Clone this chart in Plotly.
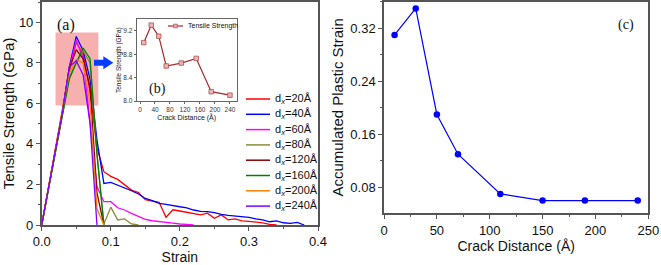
import plotly.graph_objects as go

# ---------------- data ----------------
strain = [0.00, 0.01, 0.02, 0.03, 0.04, 0.05, 0.06, 0.07, 0.08, 0.09,
          0.10, 0.11, 0.12, 0.13, 0.14, 0.15, 0.16, 0.17, 0.18, 0.19,
          0.20, 0.21, 0.22, 0.23, 0.24, 0.25, 0.26, 0.27, 0.28, 0.29,
          0.30, 0.31, 0.32, 0.33, 0.34, 0.35, 0.36, 0.37, 0.38]

series_labels = ["20", "40", "60", "80", "120", "160", "200", "240"]
series_colors = ["#ff0000", "#0000ff", "#ff00ff", "#8c8c3a",
                 "#8b0000", "#008000", "#ff8000", "#8000ff"]

stress_dx20 = [0, 1.85, 3.7, 5.55, 7.6, 9.03, 8.4, 6.6, 3.8, 2.63, 2.4, 2.25, 2.0, 1.72,
               1.6, 1.25, 1.18, 1.12, 0.38, 0.75, 0.69, 0.62, 0.57, 0.5, 0.58, 0.33,
               0.5, 0.25, 0.3, 0.2, 0.18, 0.15, 0.1, 0.03, 0]
stress_dx40 = [0, 1.85, 3.7, 5.55, 7.8, 9.3, 8.6, 7.2, 4.2, 2.05, 2.1, 1.97, 1.84, 1.69,
               1.53, 1.31, 1.2, 1.07, 1.02, 0.95, 0.9, 0.85, 0.74, 0.67, 0.66, 0.61,
               0.52, 0.47, 0.44, 0.41, 0.38, 0.3, 0.25, 0.16, 0.2, 0.11, 0.08, 0.13, 0]
stress_dx60 = [0, 1.85, 3.7, 5.55, 7.7, 9.11, 8.2, 5.0, 1.9, 1.15, 1.15, 0.85, 0.74, 0.57,
               0.44, 0.28, 0.21, 0.16, 0.13, 0.09, 0.05, 0.02, 0]
stress_dx80 = [0, 1.85, 3.7, 5.5, 7.3, 8.0, 8.6, 8.0, 3.5, 0.05, 0.88, 0.25, 0.3, 0.05, 0]
stress_dx120 = [0, 1.85, 3.7, 5.55, 7.7, 8.65, 8.2, 6.8, 1.6, 0]
stress_dx160 = [0, 1.85, 3.7, 5.5, 7.2, 8.0, 8.73, 8.2, 3.5, 0]
stress_dx200 = [0, 1.85, 3.7, 5.55, 7.5, 8.16, 8.0, 6.0, 0.8, 0]
stress_dx240 = [0, 1.85, 3.7, 5.55, 7.8, 8.1, 7.4, 5.0, 0]

stress_series = [stress_dx20, stress_dx40, stress_dx60, stress_dx80,
                 stress_dx120, stress_dx160, stress_dx200, stress_dx240]

crack_distance = [10, 30, 50, 70, 110, 150, 190, 240]
tensile_strength = [9.0, 9.3, 9.11, 8.6, 8.65, 8.73, 8.16, 8.1]
plastic_strain = [0.31, 0.35, 0.19, 0.13, 0.07, 0.06, 0.06, 0.06]

# ---------------- figure ----------------
W, H = 661, 265
def px(x):
    return x / W
def py(y):
    return 1 - y / H

fig = go.Figure()

for lab, col, ys in zip(series_labels, series_colors, stress_series):
    fig.add_trace(go.Scatter(x=strain[:len(ys)], y=ys, mode="lines",
                             line=dict(color=col, width=1.3),
                             name="dx=" + lab, showlegend=False,
                             xaxis="x", yaxis="y"))

fig.add_trace(go.Scatter(x=crack_distance, y=plastic_strain, mode="lines+markers",
                         line=dict(color="#0000ff", width=1.2),
                         marker=dict(color="#0000ff", size=6.5),
                         showlegend=False, xaxis="x2", yaxis="y2"))

fig.add_trace(go.Scatter(x=crack_distance, y=tensile_strength, mode="lines+markers",
                         line=dict(color="#a52a2a", width=1.2),
                         marker=dict(symbol="square", color="#e8b4b4", size=4.5,
                                     line=dict(color="#b05050", width=0.8)),
                         name="Tensile Strength", showlegend=False,
                         xaxis="x3", yaxis="y3"))

axcol = "#555555"
tickfont = dict(family="Liberation Sans, Arial", size=13, color="#111")
common = dict(showline=True, linecolor=axcol, linewidth=1.5, mirror=True,
              ticks="outside", ticklen=4, tickcolor=axcol, showgrid=False,
              zeroline=False, tickfont=tickfont, automargin=False)
small = dict(showline=True, linecolor="#666", linewidth=1, mirror=True,
             ticks="outside", ticklen=2, tickcolor="#666", showgrid=False,
             zeroline=False, automargin=False,
             tickfont=dict(family="Liberation Sans, Arial", size=6.5, color="#333"))

fig.update_layout(
    width=W, height=H, margin=dict(l=0, r=0, t=0, b=0, autoexpand=False),
    paper_bgcolor="white", plot_bgcolor="white",
    font=dict(family="Liberation Sans, Arial", color="#111"),
    xaxis=dict(domain=[px(41.7), px(318)], range=[0, 0.4], dtick=0.1, tickformat=".1f",
               anchor="y", minor=dict(ticks="outside", ticklen=2, dtick=0.05, tickcolor=axcol),
               title=dict(text="Strain", font=dict(size=14), standoff=2), **common),
    yaxis=dict(domain=[py(225), py(2)], range=[0, 11.0], tickvals=[0, 2, 4, 6, 8, 10],
               anchor="x", minor=dict(ticks="outside", ticklen=2, dtick=1, tickcolor=axcol),
               title=dict(text="Tensile Strength (GPa)", font=dict(size=15), standoff=4), **common),
    xaxis2=dict(domain=[px(384), px(648.3)], range=[0, 250], dtick=50, anchor="y2",
                minor=dict(ticks="outside", ticklen=2, dtick=25, tickcolor=axcol),
                title=dict(text="Crack Distance (Å)", font=dict(size=14), standoff=2), **common),
    yaxis2=dict(domain=[py(213.3), py(1.5)], range=[0.0408, 0.3605],
                tickvals=[0.08, 0.16, 0.24, 0.32], tickformat=".2f", anchor="x2",
                minor=dict(ticks="outside", ticklen=2, dtick=0.04, tickcolor=axcol),
                title=dict(text="Accumulated Plastic Strain", font=dict(size=15), standoff=3), **common),
    xaxis3=dict(domain=[px(136.7), px(236.7)], range=[-8.8, 258],
                tickvals=[0, 40, 80, 120, 160, 200, 240], anchor="y3",
                title=dict(text="Crack Distance (Å)", font=dict(size=7), standoff=1), **small),
    yaxis3=dict(domain=[py(101), py(19.3)], range=[8.0, 9.4],
                tickvals=[8.0, 8.4, 8.8, 9.2], tickformat=".1f", anchor="x3",
                title=dict(text="Tensile Strength (GPa)", font=dict(size=6.5), standoff=1), **small),
)

# highlight box and arrow (decoration)
fig.add_shape(type="rect", xref="x", yref="y", x0=0.02, x1=0.082, y0=5.9, y1=9.5,
              fillcolor="rgba(244,150,150,0.75)", line=dict(width=0), layer="below")
fig.add_shape(type="path", xref="x", yref="y",
              path="M 0.0757,7.85 L 0.0892,7.85 L 0.0892,7.68 L 0.1037,8.0 "
                   "L 0.0892,8.32 L 0.0892,8.15 L 0.0757,8.15 Z",
              fillcolor="#0a3cff", line=dict(width=0))

# main legend (drawn manually for compact spacing)
for i, (lab, col) in enumerate(zip(series_labels, series_colors)):
    yy = 99 + 15.3 * i
    fig.add_shape(type="line", xref="paper", yref="paper",
                  x0=px(246), x1=px(270), y0=py(yy), y1=py(yy),
                  line=dict(color=col, width=1.5))
    fig.add_annotation(xref="paper", yref="paper", x=px(273), y=py(yy),
                       xanchor="left", yanchor="middle", showarrow=False,
                       text="d<sub><i>x</i></sub>=" + lab + "Å",
                       font=dict(size=11, color="#111"))

# inset legend
fig.add_shape(type="line", xref="paper", yref="paper", x0=px(168), x1=px(183),
              y0=py(26), y1=py(26), line=dict(color="#a52a2a", width=1.2))
fig.add_shape(type="rect", xref="paper", yref="paper", x0=px(173.7), x1=px(177.3),
              y0=py(27.8), y1=py(24.2), fillcolor="#e8b4b4", line=dict(color="#b05050", width=0.8))
fig.add_annotation(xref="paper", yref="paper", x=px(185.5), y=py(26), xanchor="left",
                   yanchor="middle", showarrow=False, text="Tensile Strength",
                   font=dict(size=7, color="#111"))

# panel labels
serif = "Liberation Serif, Times New Roman"
fig.add_annotation(xref="paper", yref="paper", x=px(55), y=py(14), showarrow=False,
                   text="(a)", font=dict(family=serif, size=16, color="#111"))
fig.add_annotation(xref="paper", yref="paper", x=px(147), y=py(89), showarrow=False,
                   text="(b)", font=dict(family=serif, size=14, color="#111"))
fig.add_annotation(xref="paper", yref="paper", x=px(636), y=py(15.5), showarrow=False,
                   text="(c)", font=dict(family=serif, size=14, color="#111"))

fig.write_html("out.html", config={"displayModeBar": False},
               post_script="document.body.style.margin='0';")
